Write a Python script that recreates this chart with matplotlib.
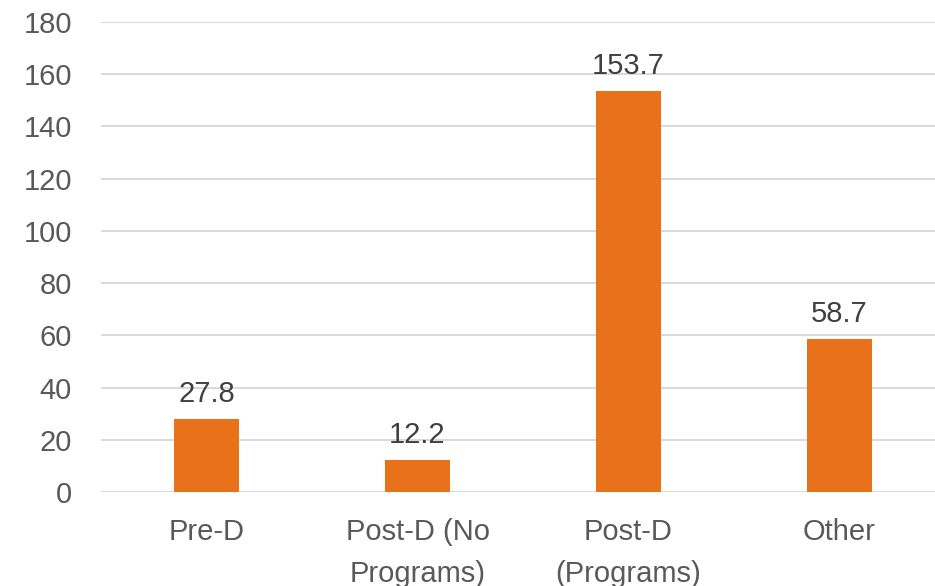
import matplotlib
matplotlib.use("Agg")
import matplotlib.pyplot as plt

categories = ["Pre-D", "Post-D (No\nPrograms)", "Post-D\n(Programs)", "Other"]
values = [27.8, 12.2, 153.7, 58.7]
y_ticks = [0, 20, 40, 60, 80, 100, 120, 140, 160, 180]

plt.rcParams["font.family"] = ["Liberation Sans", "DejaVu Sans"]

fig = plt.figure(figsize=(9.35, 5.86), dpi=100)
ax = fig.add_axes([101 / 935, 1 - 492 / 586, 844 / 935, 470 / 586])

x = range(len(categories))
ax.bar(x, values, width=0.31, color="#E8711A", zorder=3)

for xi, v in zip(x, values):
    ax.annotate(f"{v:.1f}", (xi, v), xytext=(0, 8), textcoords="offset points",
                ha="center", va="bottom", fontsize=21, color="#404040")

ax.set_xlim(-0.5, 3.5)
ax.set_ylim(0, 180)
ax.set_yticks(y_ticks)
ax.set_yticklabels([str(t) for t in y_ticks], fontsize=21, color="#595959")
ax.set_xticks(list(x))
ax.set_xticklabels(categories, fontsize=21, color="#595959", linespacing=1.6)

ax.grid(axis="y", color="#D9D9D9", linewidth=1.4, zorder=0)
ax.tick_params(axis="y", length=0, pad=21)
ax.tick_params(axis="x", length=0, pad=19)
for s in ax.spines.values():
    s.set_visible(False)

fig.savefig("out.png", dpi=100)
